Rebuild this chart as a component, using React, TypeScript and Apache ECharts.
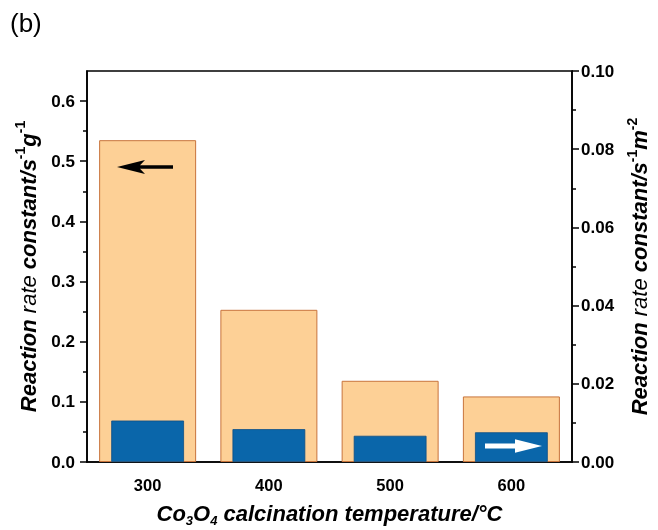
import React, { useEffect, useRef } from "react";
import * as echarts from "echarts";

const categories = ["300", "400", "500", "600"];
const massRate = [0.535, 0.253, 0.135, 0.109];
const areaRate = [0.0106, 0.0084, 0.0067, 0.0076];
const leftMajorTicks = [0, 0.1, 0.2, 0.3, 0.4, 0.5, 0.6];
const leftMinorTicks = [0.05, 0.15, 0.25, 0.35, 0.45, 0.55];

const FONT = '"Liberation Sans", Arial, sans-serif';

export default function App() {
  const ref = useRef<HTMLDivElement>(null);
  useEffect(() => {
    if (!ref.current) return;
    const chart = echarts.init(ref.current, null, { renderer: "svg" });
    const nameRich = {
      b: { fontSize: 22, fontWeight: "bold", fontStyle: "italic", fontFamily: FONT, lineHeight: 30, color: "#000" },
      n: { fontSize: 22, fontWeight: "normal", fontStyle: "italic", fontFamily: FONT, lineHeight: 30, color: "#000" },
      sup: { fontSize: 14, fontWeight: "bold", fontStyle: "normal", fontFamily: FONT, lineHeight: 14, verticalAlign: "top", color: "#000" },
      sub: { fontSize: 13, fontWeight: "bold", fontStyle: "italic", fontFamily: FONT, lineHeight: 13, verticalAlign: "bottom", color: "#000" },
    };
    const xRich = {
      b: { fontSize: 22, fontWeight: "bold", fontStyle: "italic", fontFamily: FONT, lineHeight: 27, color: "#000" },
      sub: { fontSize: 13, fontWeight: "bold", fontStyle: "italic", fontFamily: FONT, lineHeight: 13, verticalAlign: "bottom", color: "#000" },
    };
    const xTickLabel = { fontSize: 16.5, fontWeight: "bold", fontFamily: FONT, color: "#000" };
    const yTickLabel = { fontSize: 17, fontWeight: "bold", fontFamily: FONT, color: "#000" };
    chart.setOption({
      animation: false,
      title: {
        text: "(b)",
        left: 5,
        top: 5,
        textStyle: { fontSize: 26, fontWeight: "normal", fontFamily: FONT, color: "#000" },
      },
      grid: {
        left: 87,
        right: 86,
        top: 71,
        bottom: 68,
        show: true,
        borderColor: "#000",
        borderWidth: 1.6,
        backgroundColor: "transparent",
        containLabel: false,
        outerBoundsMode: "none",
      },
      xAxis: [
        {
          type: "category",
          data: categories,
          axisLine: { lineStyle: { color: "#000", width: 1.6 } },
          axisTick: { alignWithLabel: true, length: 6, lineStyle: { color: "#000", width: 1.5 } },
          axisLabel: { ...xTickLabel, margin: 14 },
          name: "{b|Co}{sub|3}{b|O}{sub|4}{b| calcination temperature/°C}",
          nameLocation: "middle",
          nameGap: 38,
          nameTextStyle: { rich: xRich },
        },
        { type: "category", data: categories, show: false },
      ],
      yAxis: [
        {
          type: "value",
          min: 0,
          max: 0.65,
          interval: 0.05,
          position: "left",
          splitLine: { show: false },
          axisLine: { show: true, lineStyle: { color: "#000", width: 1.6 } },
          axisTick: { show: true, length: 7, customValues: leftMajorTicks, lineStyle: { color: "#000", width: 1.5 } },
          axisLabel: { ...yTickLabel, margin: 12, customValues: leftMajorTicks, formatter: (v: number) => v.toFixed(1) },
          name: "{b|Reaction}{n| rate}{b| constant/s}{sup|-1}{b|g}{sup|-1}",
          nameLocation: "middle",
          nameGap: 44,
          nameTextStyle: { rich: nameRich },
        },
        {
          type: "value",
          min: 0,
          max: 0.1,
          interval: 0.02,
          position: "right",
          splitLine: { show: false },
          axisLine: { show: true, lineStyle: { color: "#000", width: 1.6 } },
          axisTick: { show: true, length: 7, lineStyle: { color: "#000", width: 1.5 } },
          minorTick: { show: true, splitNumber: 2, length: 4, lineStyle: { color: "#000", width: 1.5 } },
          axisLabel: { ...yTickLabel, margin: 9, formatter: (v: number) => v.toFixed(2) },
          name: "{b|Reaction}{n| rate}{b| constant/s}{sup|-1}{b|m}{sup|-2}",
          nameLocation: "middle",
          nameGap: 42,
          nameRotate: 90,
          nameTextStyle: { rich: nameRich },
        },
        {
          type: "value",
          min: 0,
          max: 0.65,
          interval: 0.05,
          position: "left",
          splitLine: { show: false },
          axisLine: { show: false },
          axisTick: { show: true, length: 4, customValues: leftMinorTicks, lineStyle: { color: "#000", width: 1.5 } },
          axisLabel: { show: false },
        },
      ],
      series: [
        {
          type: "bar",
          xAxisIndex: 0,
          yAxisIndex: 0,
          data: massRate,
          barWidth: "80%",
          itemStyle: { color: "#FDD096", borderColor: "#C8743C", borderWidth: 1 },
          z: 2,
        },
        {
          type: "bar",
          xAxisIndex: 1,
          yAxisIndex: 1,
          data: areaRate,
          barWidth: "60%",
          itemStyle: { color: "#0A66AA", borderColor: "#0C4E85", borderWidth: 0.8 },
          z: 3,
        },
      ],
      graphic: [
        {
          type: "polygon",
          z: 100,
          shape: {
            points: [
              [117, 167], [145, 160], [140, 165.3], [173, 165.3], [173, 168.7], [140, 168.7], [145, 174],
            ],
          },
          style: { fill: "#000" },
        },
        {
          type: "polygon",
          z: 100,
          shape: {
            points: [
              [542, 446], [515, 439.3], [515, 443.5], [485, 443.5], [485, 448.5], [515, 448.5], [515, 452.7],
            ],
          },
          style: { fill: "#fff" },
        },
      ],
    });
    return () => chart.dispose();
  }, []);
  return <div ref={ref} style={{ position: "fixed", left: 0, top: 0, width: 658, height: 530 }} />;
}
